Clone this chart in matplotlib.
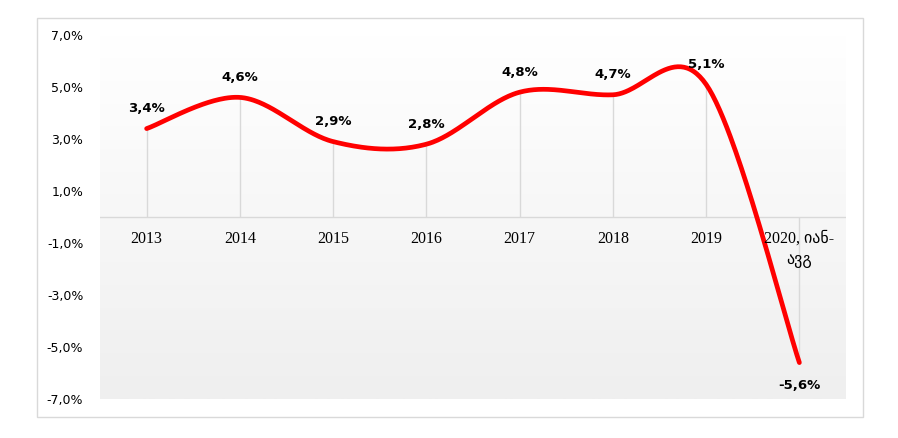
import numpy as np
import matplotlib
matplotlib.use('Agg')
import matplotlib.pyplot as plt
import matplotlib.patches as mpatches

# 數據
categories = ['2013', '2014', '2015', '2016', '2017', '2018', '2019', '2020, იან-\nავგ']
values = [3.4, 4.6, 2.9, 2.8, 4.8, 4.7, 5.1, -5.6]
y_ticks = [-7, -5, -3, -1, 1, 3, 5, 7]


# Excel 風格的平滑曲線（Bezier）
def smooth_curve(xs, ys, n=60):
    pts = np.column_stack([xs, ys]).astype(float)
    out = []
    for i in range(len(pts) - 1):
        p0 = pts[i - 1] if i > 0 else pts[i]
        p1 = pts[i]
        p2 = pts[i + 1]
        p3 = pts[i + 2] if i + 2 < len(pts) else pts[i + 1]
        c1 = p1 + (p2 - p0) / 6
        c2 = p2 - (p3 - p1) / 6
        t = np.linspace(0, 1, n)[:, None]
        seg = ((1 - t) ** 3) * p1 + 3 * ((1 - t) ** 2) * t * c1 + 3 * (1 - t) * t ** 2 * c2 + t ** 3 * p2
        out.append(seg if i == 0 else seg[1:])
    out = np.vstack(out)
    return out[:, 0], out[:, 1]


W, H = 898, 438
fig = plt.figure(figsize=(W / 100, H / 100), dpi=100)

# 外框
fig.patches.append(mpatches.Rectangle((37 / W, 1 - 417 / H), (863 - 37) / W, (417 - 18) / H,
                                      transform=fig.transFigure, fill=False,
                                      edgecolor='#d9d9d9', linewidth=1))

ax = fig.add_axes([100 / W, 1 - 399 / H, (846 - 100) / W, (399 - 35) / H])
ax.set_xlim(-0.5, len(categories) - 0.5)
ax.set_ylim(-7, 7)

# 背景漸層
grad = np.linspace(1, 0, 256)[:, None]
ax.imshow(grad, extent=(-0.5, len(categories) - 0.5, -7, 7), aspect='auto',
          cmap=matplotlib.colors.LinearSegmentedColormap.from_list('g', ['#efefef', '#ffffff']),
          zorder=0, origin='upper')

x = np.arange(len(categories))

# 零線與垂直線
ax.axhline(0, color='#d9d9d9', linewidth=1, zorder=1)
ax.vlines(x, 0, values, color='#d9d9d9', linewidth=1, zorder=1)

sx, sy = smooth_curve(x, values)
ax.plot(sx, sy, color='#ff0000', linewidth=3.4, solid_capstyle='round', zorder=3)

# 數值標籤
for xi, v in zip(x, values):
    label = f'{v:.1f}%'.replace('.', ',')
    off = 14.5 if v >= 0 else -16.5
    ax.annotate(label, (xi, v), xytext=(0, off), textcoords='offset points',
                ha='center', va='center', fontsize=9.5, fontweight='bold',
                family=['DejaVu Sans'], color='black', zorder=4)

# 類別標籤
for xi, c in zip(x, categories):
    ax.annotate(c, (xi, 0), xytext=(0, -10), textcoords='offset points',
                ha='center', va='top', fontsize=11.5, linespacing=1.45,
                family=['Liberation Serif', 'DejaVu Sans'], color='black')

ax.set_xticks([])
ax.set_yticks(y_ticks)
ax.set_yticklabels([f'{t:.1f}%'.replace('.', ',') for t in y_ticks], fontsize=9,
                   family=['DejaVu Sans'])
ax.tick_params(axis='y', length=0, pad=12)
for s in ax.spines.values():
    s.set_visible(False)

plt.savefig('out.png', dpi=100)
